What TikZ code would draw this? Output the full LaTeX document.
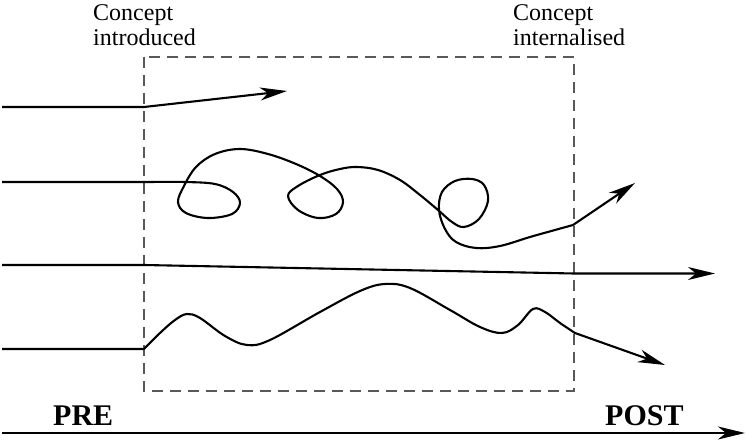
\documentclass[tikz,border=0pt]{standalone}
\usepackage{fontspec}
\setmainfont{Liberation Serif}
\usetikzlibrary{arrows.meta}

\begin{document}
\begin{tikzpicture}[
    x=1pt, y=-1pt,
    trajectory/.style={line width=2.1pt, line join=round, -{Stealth[length=27pt, width=13pt, inset=8pt]}},
    window/.style={draw=black!65, line width=1.3pt, dash pattern=on 11pt off 7pt},
    milestone/.style={inner sep=0pt, align=left, font=\fontsize{24}{25}\selectfont},
    phase/.style={inner sep=0pt, font=\fontsize{30}{30}\selectfont\bfseries}
]
    \useasboundingbox (0,0) rectangle (747,446);

    % Learning window
    \draw [window] (144,57) rectangle (574,391);

    % Labels
    \node (intro) [milestone, anchor=north west] at (93,4) {Concept\\introduced};
    \node (intern) [milestone, anchor=north west] at (513,4) {Concept\\internalised};
    \node (pre) [phase, anchor=base west] at (53,425) {PRE};
    \node (post) [phase, anchor=base west] at (605,425) {POST};

    % Entry and exit points
    \coordinate (startA) at (2,107);
    \coordinate (enterA) at (144,107);
    \coordinate (tipA) at (287,91);
    \coordinate (startB) at (2,182);
    \coordinate (enterB) at (150,182);
    \coordinate (leaveB) at (573,225);
    \coordinate (tipB) at (635,183);
    \coordinate (startC) at (2,265);
    \coordinate (enterC) at (144,265);
    \coordinate (leaveC) at (574,273.5);
    \coordinate (tipC) at (715,273.5);
    \coordinate (startD) at (2,349);
    \coordinate (enterD) at (144,349);
    \coordinate (leaveD) at (575,333);
    \coordinate (tipD) at (665,365);
    \coordinate (timeL) at (2,433);
    \coordinate (timeR) at (745,433);

    % Trajectories
    \draw [trajectory] (startA) -- (enterA) -- (tipA);
    \draw [trajectory] (startB) -- (enterB) -- plot [smooth, tension=0.6] coordinates {
        (150,182) (185,182) (215,184) (233,192) (240,203) (232,214) (208,218)
        (186,213) (178,202) (184,186) (196,167) (215,154) (240,149) (268,154)
        (296,164) (320,176) (337,189) (343,202) (336,214) (318,218) (298,210)
        (288,196) (298,186) (320,175) (340,169) (357,167) (378,170) (400,180)
        (420,195) (438,210) (452,222) (464,227) (479,219) (488,201) (484,185)
        (472,179) (455,181) (442,192) (439,210) (445,229) (456,242) (476,248)
        (500,246) (530,237) (555,230) (573,225)} -- (tipB);
    \draw [trajectory] (startC) -- (enterC) -- (leaveC) -- (tipC);
    \draw [trajectory] (startD) -- (enterD) -- plot [smooth, tension=0.6] coordinates {
        (144,349) (160,333) (175,320) (187,314) (200,318) (225,336) (247,345)
        (270,340) (320,312) (360,291) (385,284) (410,288) (450,310) (480,327)
        (502,333) (518,325) (533,309) (545,312) (560,323) (575,333)} -- (tipD);

    % Time axis
    \draw [trajectory] (timeL) -- (timeR);

\end{tikzpicture}
\end{document}
